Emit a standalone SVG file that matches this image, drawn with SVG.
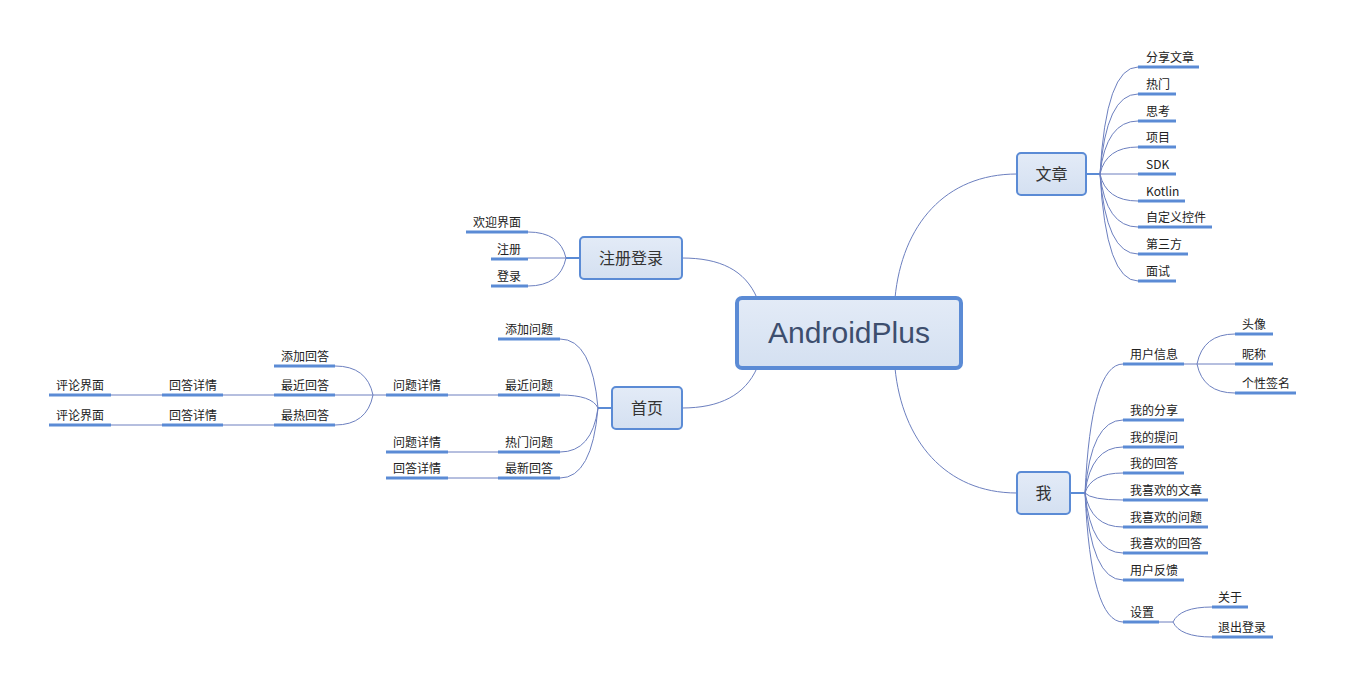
<svg xmlns="http://www.w3.org/2000/svg" width="1346" height="689" viewBox="0 0 1346 689">
<defs>
<linearGradient id="nf" x1="0" y1="0" x2="0" y2="1">
<stop offset="0" stop-color="#e3ebf7"/>
<stop offset="1" stop-color="#d4e0f1"/>
</linearGradient>
</defs>
<style>
.bg{fill:#ffffff}
.node rect{fill:url(#nf);stroke:#5b8bd5;stroke-width:2}
.root rect{stroke-width:4}
.nt{font-family:"Noto Sans CJK SC","Noto Sans",sans-serif;font-size:16px;fill:#333333;text-anchor:middle}
.rt{font-family:"Liberation Sans","Noto Sans",sans-serif;font-size:29px;fill:#3d4e6e;text-anchor:middle}
.leaf line{stroke:#5b8bd5;stroke-width:3}
.lt{font-family:"Noto Sans CJK SC","Noto Sans",sans-serif;font-size:12px;fill:#222222}
#connectors path{fill:none;stroke:#6c7fbf;stroke-width:1}
#connectors .stub{stroke:#5b8bd5;stroke-width:2}
</style>
<rect class="bg" x="0" y="0" width="1346" height="689"/>
<g id="connectors">
<path d="M895,298 C902,225 945,174 1017,174"/>
<path d="M895,368 C902,440 945,493 1017,493"/>
<path d="M757,298 C745,270 720,258 682,258"/>
<path d="M757,368 C745,395 720,408 682,408"/>
<path class="stub" d="M1086,174 H1100"/>
<path d="M1100,174 Q1106,67 1138,67"/>
<path d="M1100,174 Q1106,94 1138,94"/>
<path d="M1100,174 Q1106,121 1138,121"/>
<path d="M1100,174 Q1106,147 1138,147"/>
<path d="M1100,174 H1138"/>
<path d="M1100,174 Q1106,201 1138,201"/>
<path d="M1100,174 Q1106,227 1138,227"/>
<path d="M1100,174 Q1106,254 1138,254"/>
<path d="M1100,174 Q1106,281 1138,281"/>
<path class="stub" d="M1070,493 H1085"/>
<path d="M1085,493 Q1091,364 1123,364"/>
<path d="M1085,493 Q1091,420 1123,420"/>
<path d="M1085,493 Q1091,447 1123,447"/>
<path d="M1085,493 Q1091,473 1123,473"/>
<path d="M1085,493 Q1091,500 1123,500"/>
<path d="M1085,493 Q1091,527 1123,527"/>
<path d="M1085,493 Q1091,553 1123,553"/>
<path d="M1085,493 Q1091,580 1123,580"/>
<path d="M1085,493 Q1091,622 1123,622"/>
<path d="M1184,364 H1197"/>
<path d="M1197,364 Q1203,334 1235,334"/>
<path d="M1197,364 H1235"/>
<path d="M1197,364 Q1203,393 1235,393"/>
<path d="M1159,622 H1173"/>
<path d="M1173,622 Q1180,607 1212,607"/>
<path d="M1173,622 Q1180,637 1212,637"/>
<path class="stub" d="M580,258 H566"/>
<path d="M566,258 Q560,232 528,232"/>
<path d="M566,258 H528"/>
<path d="M566,258 Q560,286 528,286"/>
<path class="stub" d="M612,408 H598"/>
<path d="M598,408 Q592,339 560,339"/>
<path d="M598,408 Q592,395 560,395"/>
<path d="M598,408 Q592,452 560,452"/>
<path d="M598,408 Q592,478 560,478"/>
<path d="M498,395 H448"/>
<path d="M498,452 H448"/>
<path d="M498,478 H448"/>
<path d="M386,395 H373"/>
<path d="M373,395 Q367,366 335,366"/>
<path d="M373,395 H335"/>
<path d="M373,395 Q367,425 335,425"/>
<path d="M274,395 H223"/>
<path d="M274,425 H223"/>
<path d="M162,395 H111"/>
<path d="M162,425 H111"/>
</g>
<g id="root" class="node root"><rect x="737" y="298" width="224" height="70" rx="5"/><text class="rt" x="849" y="343" textLength="162" lengthAdjust="spacingAndGlyphs">AndroidPlus</text></g>
<g id="wenzhang" class="node"><rect x="1017" y="153" width="69" height="42" rx="4"/><text class="nt" x="1051.5" y="180">文章</text></g>
<g id="wo" class="node"><rect x="1017" y="472" width="53" height="42" rx="4"/><text class="nt" x="1043.5" y="499">我</text></g>
<g id="zhucedenglu" class="node"><rect x="580" y="237" width="102" height="42" rx="4"/><text class="nt" x="631" y="264">注册登录</text></g>
<g id="shouye" class="node"><rect x="612" y="387" width="70" height="42" rx="4"/><text class="nt" x="647" y="414">首页</text></g>
<g id="l-fxwz" class="leaf"><line x1="1138" y1="67" x2="1199" y2="67"/><text class="lt" x="1146" y="62">分享文章</text></g>
<g id="l-rm" class="leaf"><line x1="1138" y1="94" x2="1176" y2="94"/><text class="lt" x="1146" y="89">热门</text></g>
<g id="l-sk" class="leaf"><line x1="1138" y1="121" x2="1176" y2="121"/><text class="lt" x="1146" y="116">思考</text></g>
<g id="l-xm" class="leaf"><line x1="1138" y1="147" x2="1176" y2="147"/><text class="lt" x="1146" y="142">项目</text></g>
<g id="l-sdk" class="leaf"><line x1="1138" y1="174" x2="1176" y2="174"/><text class="lt" x="1146" y="169">SDK</text></g>
<g id="l-kotlin" class="leaf"><line x1="1138" y1="201" x2="1185" y2="201"/><text class="lt" x="1146" y="196">Kotlin</text></g>
<g id="l-zdykj" class="leaf"><line x1="1138" y1="227" x2="1212" y2="227"/><text class="lt" x="1146" y="222">自定义控件</text></g>
<g id="l-dsf" class="leaf"><line x1="1138" y1="254" x2="1188" y2="254"/><text class="lt" x="1146" y="249">第三方</text></g>
<g id="l-ms" class="leaf"><line x1="1138" y1="281" x2="1176" y2="281"/><text class="lt" x="1146" y="276">面试</text></g>
<g id="l-yhxx" class="leaf"><line x1="1123" y1="364" x2="1184" y2="364"/><text class="lt" x="1130" y="359">用户信息</text></g>
<g id="l-wdfx" class="leaf"><line x1="1123" y1="420" x2="1184" y2="420"/><text class="lt" x="1130" y="415">我的分享</text></g>
<g id="l-wdtw" class="leaf"><line x1="1123" y1="447" x2="1184" y2="447"/><text class="lt" x="1130" y="442">我的提问</text></g>
<g id="l-wdhd" class="leaf"><line x1="1123" y1="473" x2="1184" y2="473"/><text class="lt" x="1130" y="468">我的回答</text></g>
<g id="l-wxhwz" class="leaf"><line x1="1123" y1="500" x2="1208" y2="500"/><text class="lt" x="1130" y="495">我喜欢的文章</text></g>
<g id="l-wxhwt" class="leaf"><line x1="1123" y1="527" x2="1208" y2="527"/><text class="lt" x="1130" y="522">我喜欢的问题</text></g>
<g id="l-wxhhd" class="leaf"><line x1="1123" y1="553" x2="1208" y2="553"/><text class="lt" x="1130" y="548">我喜欢的回答</text></g>
<g id="l-yhfk" class="leaf"><line x1="1123" y1="580" x2="1184" y2="580"/><text class="lt" x="1130" y="575">用户反馈</text></g>
<g id="l-sz" class="leaf"><line x1="1123" y1="622" x2="1159" y2="622"/><text class="lt" x="1130" y="617">设置</text></g>
<g id="l-tx" class="leaf"><line x1="1235" y1="334" x2="1273" y2="334"/><text class="lt" x="1242" y="329">头像</text></g>
<g id="l-nc" class="leaf"><line x1="1235" y1="364" x2="1273" y2="364"/><text class="lt" x="1242" y="359">昵称</text></g>
<g id="l-gxqm" class="leaf"><line x1="1235" y1="393" x2="1296" y2="393"/><text class="lt" x="1242" y="388">个性签名</text></g>
<g id="l-gy" class="leaf"><line x1="1212" y1="607" x2="1248" y2="607"/><text class="lt" x="1218" y="602">关于</text></g>
<g id="l-tcdl" class="leaf"><line x1="1212" y1="637" x2="1273" y2="637"/><text class="lt" x="1218" y="632">退出登录</text></g>
<g id="l-hyjm" class="leaf"><line x1="466" y1="232" x2="528" y2="232"/><text class="lt" x="473" y="227">欢迎界面</text></g>
<g id="l-zc" class="leaf"><line x1="491" y1="259" x2="528" y2="259"/><text class="lt" x="497" y="254">注册</text></g>
<g id="l-dl" class="leaf"><line x1="491" y1="286" x2="528" y2="286"/><text class="lt" x="497" y="281">登录</text></g>
<g id="l-tjwt" class="leaf"><line x1="498" y1="339" x2="560" y2="339"/><text class="lt" x="505" y="334">添加问题</text></g>
<g id="l-zjwt" class="leaf"><line x1="498" y1="395" x2="560" y2="395"/><text class="lt" x="505" y="390">最近问题</text></g>
<g id="l-rmwt" class="leaf"><line x1="498" y1="452" x2="560" y2="452"/><text class="lt" x="505" y="447">热门问题</text></g>
<g id="l-zxhd" class="leaf"><line x1="498" y1="478" x2="560" y2="478"/><text class="lt" x="505" y="473">最新回答</text></g>
<g id="l-wtxq1" class="leaf"><line x1="386" y1="395" x2="448" y2="395"/><text class="lt" x="393" y="390">问题详情</text></g>
<g id="l-wtxq2" class="leaf"><line x1="386" y1="452" x2="448" y2="452"/><text class="lt" x="393" y="447">问题详情</text></g>
<g id="l-hdxq0" class="leaf"><line x1="386" y1="478" x2="448" y2="478"/><text class="lt" x="393" y="473">回答详情</text></g>
<g id="l-tjhd" class="leaf"><line x1="274" y1="366" x2="335" y2="366"/><text class="lt" x="281" y="361">添加回答</text></g>
<g id="l-zjhd" class="leaf"><line x1="274" y1="395" x2="335" y2="395"/><text class="lt" x="281" y="390">最近回答</text></g>
<g id="l-zrhd" class="leaf"><line x1="274" y1="425" x2="335" y2="425"/><text class="lt" x="281" y="420">最热回答</text></g>
<g id="l-hdxq1" class="leaf"><line x1="162" y1="395" x2="223" y2="395"/><text class="lt" x="169" y="390">回答详情</text></g>
<g id="l-hdxq2" class="leaf"><line x1="162" y1="425" x2="223" y2="425"/><text class="lt" x="169" y="420">回答详情</text></g>
<g id="l-pljm1" class="leaf"><line x1="49" y1="395" x2="111" y2="395"/><text class="lt" x="56" y="390">评论界面</text></g>
<g id="l-pljm2" class="leaf"><line x1="49" y1="425" x2="111" y2="425"/><text class="lt" x="56" y="420">评论界面</text></g>
</svg>
